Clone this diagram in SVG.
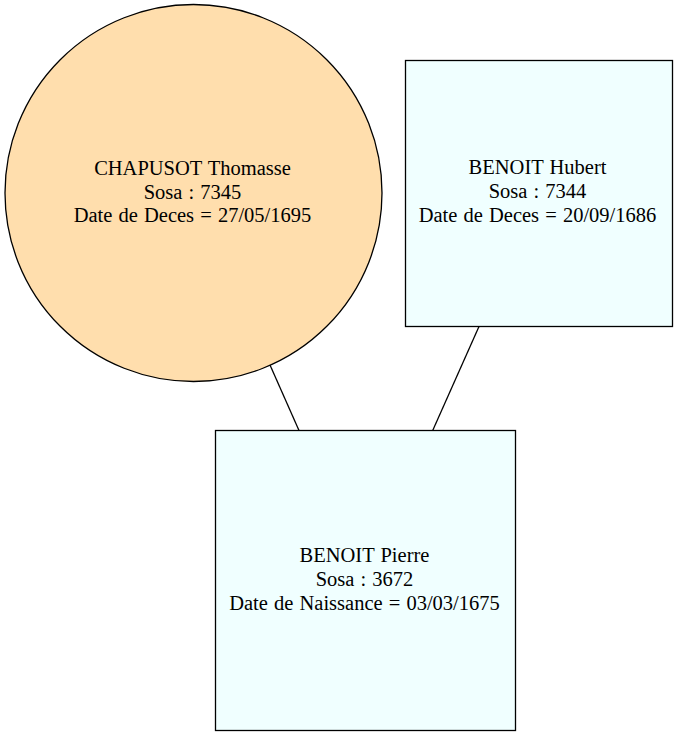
<svg xmlns="http://www.w3.org/2000/svg" width="678" height="736" viewBox="0 0 678 736">
<style>
.n{stroke:#000;stroke-width:1.3}
.c{fill:#ffdead}
.r{fill:#f0ffff}
.e{stroke:#000;stroke-width:1.3;fill:none}
text{font-family:"Liberation Serif","Times New Roman",serif;font-size:20.5px;word-spacing:1px;fill:#000;text-anchor:middle}
</style>
<rect width="678" height="736" fill="#fff"/>
<g id="edges">
<line class="e" x1="270" y1="365" x2="299" y2="430.5"/>
<line class="e" x1="479" y1="326.5" x2="432.7" y2="430.5"/>
</g>
<g id="n_chapusot">
<circle class="n c" cx="193.5" cy="193" r="188.5"/>
<text x="192.5" y="175">CHAPUSOT Thomasse</text>
<text x="192.5" y="199">Sosa : 7345</text>
<text x="192.5" y="222">Date de Deces = 27/05/1695</text>
</g>
<g id="n_hubert">
<rect class="n r" x="405.5" y="60.5" width="267" height="266"/>
<text x="537.5" y="174">BENOIT Hubert</text>
<text x="537.5" y="198">Sosa : 7344</text>
<text x="537.5" y="222">Date de Deces = 20/09/1686</text>
</g>
<g id="n_pierre">
<rect class="n r" x="215.5" y="430.5" width="300" height="300"/>
<text x="364.5" y="562">BENOIT Pierre</text>
<text x="364.5" y="586">Sosa : 3672</text>
<text x="364.5" y="610">Date de Naissance = 03/03/1675</text>
</g>
</svg>
